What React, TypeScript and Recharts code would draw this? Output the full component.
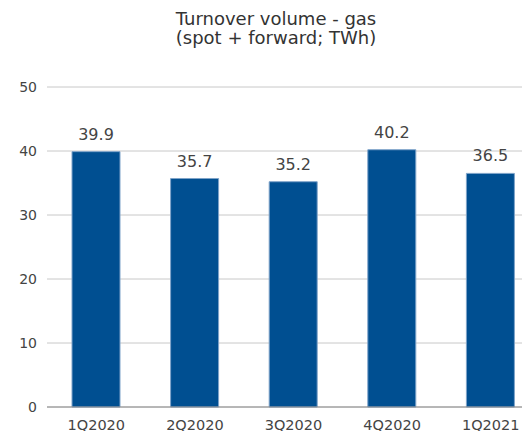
import { Bar, BarChart, CartesianGrid, LabelList, XAxis, YAxis } from "recharts";

const quarters = ["1Q2020", "2Q2020", "3Q2020", "4Q2020", "1Q2021"];
const volumes = [39.9, 35.7, 35.2, 40.2, 36.5];
const yTicks = [0, 10, 20, 30, 40, 50];
const titleLines = ["Turnover volume - gas", "(spot + forward; TWh)"];

const data = quarters.map((q, i) => ({ quarter: q, volume: volumes[i] }));

const font = "'DejaVu Sans', Verdana, sans-serif";

export default function App() {
  return (
    <div
      style={{
        position: "relative",
        width: 530,
        height: 439,
        margin: -8,
        overflow: "hidden",
        background: "#fff",
        fontFamily: font,
      }}
    >
      <div
        style={{
          position: "absolute",
          top: 9,
          left: 0,
          width: 552,
          textAlign: "center",
          fontSize: 18,
          lineHeight: "19px",
          color: "#333",
        }}
      >
        {titleLines.map((t) => (
          <div key={t}>{t}</div>
        ))}
      </div>
      <BarChart
        width={540}
        height={439}
        data={data}
        margin={{ top: 87, right: 0, bottom: 0, left: 0 }}
        style={{ fontFamily: font }}
      >
        <CartesianGrid vertical={false} stroke="#c8c8c8" />
        <XAxis
          dataKey="quarter"
          height={32}
          axisLine={{ stroke: "#8a8a8a" }}
          tickLine={false}
          tickSize={0}
          tickMargin={13}
          tick={{ fill: "#444", fontSize: 14.5 }}
        />
        <YAxis
          width={47}
          domain={[0, 50]}
          ticks={yTicks}
          axisLine={false}
          tickLine={false}
          tickSize={0}
          tickMargin={10}
          tick={{ fill: "#444", fontSize: 14 }}
        />
        <Bar
          dataKey="volume"
          fill="#004f91"
          stroke="#7ea3c9"
          strokeWidth={1}
          barSize={48}
          isAnimationActive={false}
        >
          <LabelList
            dataKey="volume"
            position="top"
            offset={12}
            fill="#444"
            fontSize={16}
            formatter={(v: number) => v.toFixed(1)}
          />
        </Bar>
      </BarChart>
    </div>
  );
}
